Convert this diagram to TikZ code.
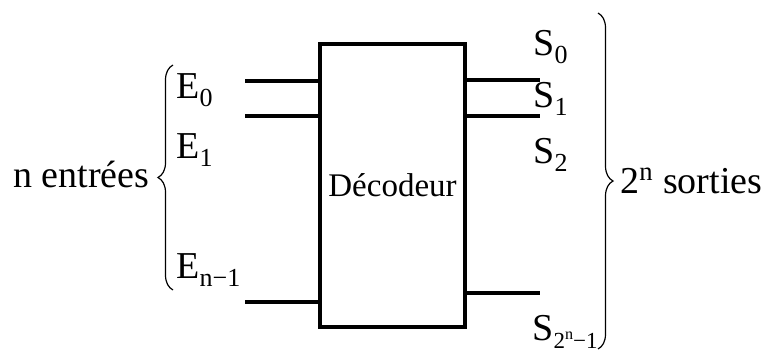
\documentclass[tikz,border=0pt]{standalone}
\usepackage{fontspec}
\setmainfont{Liberation Serif}
\usepackage{tikz}
\usetikzlibrary{decorations.pathreplacing}
\newcommand{\lowsub}[1]{\raisebox{-4.2pt}{\fontsize{13}{14}\selectfont #1}}

\begin{document}
\begin{tikzpicture}[x=0.5pt, y=-0.5pt, line cap=butt,
    box/.style={draw, line width=2pt, minimum width=72.5pt, minimum height=141.5pt,
                inner sep=0pt, font=\rmfamily\fontsize{16.5}{18}\selectfont},
    lbl/.style={inner sep=0pt, font=\rmfamily\fontsize{19}{22}\selectfont},
    wire/.style={line width=2pt},
    brc/.style={decorate, decoration={brace, amplitude=7.5pt}, line width=0.6pt}]

  % ---- the decoder block -------------------------------------------------
  \node (dec) [box] at (392.5,185.5) {Décodeur};

  % ---- inputs on the left: free ends are named coordinates ---------------
  \foreach \y/\n in {81/e0, 116/e1, 302/en}{
    \coordinate (\n) at (245,\y);
    \draw[wire] (\n) -- (\n -| dec.west);}

  % ---- outputs on the right ----------------------------------------------
  \foreach \y/\n in {80/s0, 116/s1, 293/sn}{
    \coordinate (\n) at (540,\y);
    \draw[wire] (dec.east |- \n) -- (\n);}

  % ---- input labels and their brace --------------------------------------
  \node (le0) [lbl, anchor=base west] at (176,98) {E\lowsub{0}};
  \node (le1) [lbl, anchor=base west] at (176,158) {E\lowsub{1}};
  \node (len) [lbl, anchor=base west] at (176,278) {E\lowsub{n−1}};
  \coordinate (lb) at (173,290);
  \coordinate (lt) at (173,65);
  \draw[brc] (lb) -- (lt);
  \node (nin) [lbl, anchor=base west] at (13,187) {n entrées};

  % ---- output labels and their brace -------------------------------------
  \node (ls0) [lbl, anchor=base west] at (533,55) {S\lowsub{0}};
  \node (ls1) [lbl, anchor=base west] at (533,107) {S\lowsub{1}};
  \node (ls2) [lbl, anchor=base west] at (533,163) {S\lowsub{2}};
  \node (lsn) [lbl, anchor=base west] at (532,340)
    {S\raisebox{-4.2pt}{\fontsize{11.5}{13}\selectfont 2\textsuperscript{n}\kern-0.5pt−1}};
  \coordinate (rt) at (598,13);
  \coordinate (rb) at (598,349);
  \draw[brc] (rt) -- (rb);
  \node (nout) [lbl, anchor=base west] at (620,193) {2\textsuperscript{n} sorties};

  \path (0,0) rectangle (764,354);
\end{tikzpicture}
\end{document}
